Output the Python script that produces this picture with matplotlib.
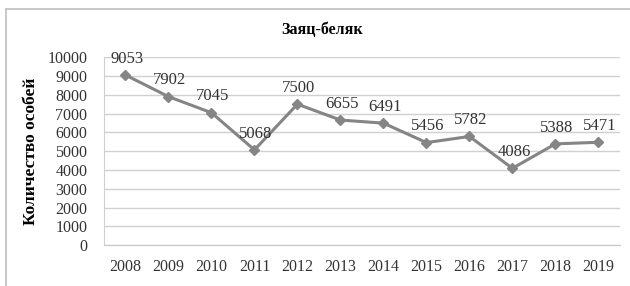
import matplotlib.pyplot as plt
from matplotlib.lines import Line2D

# данные
years = ["2008", "2009", "2010", "2011", "2012", "2013",
         "2014", "2015", "2016", "2017", "2018", "2019"]
counts = [9053, 7902, 7045, 5068, 7500, 6655, 6491, 5456, 5782, 4086, 5388, 5471]
yticks = [0, 1000, 2000, 3000, 4000, 5000, 6000, 7000, 8000, 9000, 10000]

plt.rcParams['font.family'] = ['Liberation Serif', 'DejaVu Serif']

fig = plt.figure(figsize=(6.3, 2.86), dpi=100)
ax = fig.add_axes([0.165, 0.143, 0.819, 0.657])

x = list(range(len(years)))
ax.plot(x, counts, color='#858585', lw=2.2, marker='D', ms=5,
        markerfacecolor='#858585', markeredgecolor='#858585', zorder=3)

for xi, v in zip(x, counts):
    ax.annotate(str(v), (xi, v), xytext=(1, 6), textcoords='offset points',
                ha='center', va='bottom', fontsize=12, color='#333333')

ax.set_xlim(-0.5, len(years) - 0.5)
ax.set_ylim(0, 10000)
ax.set_xticks(x)
ax.set_xticklabels(years)
ax.set_yticks(yticks)
ax.tick_params(axis='both', length=0, labelsize=11.5, colors='#333333')
ax.tick_params(axis='y', pad=12)
ax.tick_params(axis='x', pad=10)
ax.grid(axis='y', color='#d0d0d0', lw=1)
ax.set_axisbelow(True)
for s in ['top', 'right']:
    ax.spines[s].set_visible(False)
ax.spines['left'].set_color('#d0d0d0')
ax.spines['bottom'].set_color('#c8c8c8')

ax.set_ylabel('Количество особей', fontsize=12.5, fontweight='bold', labelpad=6)
fig.text(0.511, 0.895, 'Заяц-беляк', ha='center', va='center',
         fontsize=11.5, fontweight='bold')

# рамка
fig.add_artist(Line2D([0.01, 1.0], [0.968, 0.968], color='#bfbfbf', lw=1.2,
                      transform=fig.transFigure))
fig.add_artist(Line2D([0.01, 0.01], [0.0, 0.968], color='#bfbfbf', lw=1.2,
                      transform=fig.transFigure))

fig.savefig('out.png', dpi=100)
